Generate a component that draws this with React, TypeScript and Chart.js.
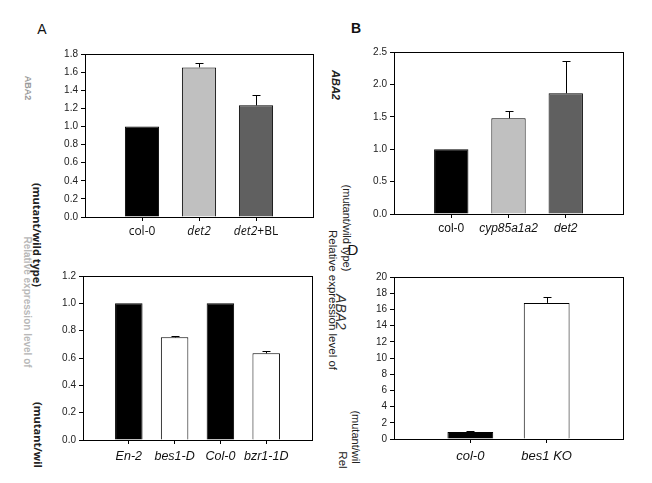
import React, { useEffect, useRef } from "react";
import { Chart, registerables } from "chart.js";

Chart.register(...registerables);

// ---------- data ----------
const valuesA = [1.0, 1.652, 1.233];
const errorsA = [0, 0.044, 0.11];
const labelsA: [string, boolean][][] = [
  [["col-0", false]],
  [["det2", true]],
  [["det2", true], ["+BL", false]],
];

const valuesB = [1.0, 1.477, 1.863];
const errorsB = [0, 0.108, 0.493];
const labelsB: [string, boolean][][] = [
  [["col-0", false]],
  [["cyp85a1a2", true]],
  [["det2", true]],
];

const valuesC = [1.0, 0.751, 1.0, 0.634];
const errorsC = [0, 0.007, 0, 0.015];
const labelsC: [string, boolean][][] = [
  [["En-2", true]],
  [["bes1-D", true]],
  [["Col-0", true]],
  [["bzr1-1D", true]],
];

const valuesD = [0.86, 16.8];
const errorsD = [0.09, 0.7];
const labelsD: [string, boolean][][] = [[["col-0", true]], [["bes1 KO", true]]];

const colorsA = ["#000000", "#c0c0c0", "#606060"];
const colorsB = ["#000000", "#c0c0c0", "#606060"];
const colorsC = ["#000000", "#ffffff", "#000000", "#ffffff"];
const colorsD = ["#000000", "#ffffff"];

type PanelCfg = {
  area: { l: number; t: number; r: number; b: number };
  values: number[];
  errors: number[];
  labels: [string, boolean][][];
  colors: string[];
  yMax: number;
  yStep: number;
  yDigits: number;
  labelOffset: number;
  labelSize: number;
  labelFamily: string;
};

const panels: PanelCfg[] = [
  {
    area: { l: 85, t: 54, r: 313, b: 217 },
    values: valuesA, errors: errorsA, labels: labelsA, colors: colorsA,
    yMax: 1.8, yStep: 0.2, yDigits: 1, labelOffset: 15, labelSize: 12, labelFamily: "'Open Sans', 'Liberation Sans', sans-serif",
  },
  {
    area: { l: 394, t: 52, r: 623, b: 214 },
    values: valuesB, errors: errorsB, labels: labelsB, colors: colorsB,
    yMax: 2.5, yStep: 0.5, yDigits: 1, labelOffset: 15, labelSize: 12, labelFamily: "'Liberation Sans', Arial, sans-serif",
  },
  {
    area: { l: 83, t: 276, r: 312, b: 440 },
    values: valuesC, errors: errorsC, labels: labelsC, colors: colorsC,
    yMax: 1.2, yStep: 0.2, yDigits: 1, labelOffset: 17, labelSize: 12.5, labelFamily: "'Liberation Sans', Arial, sans-serif",
  },
  {
    area: { l: 394, t: 277, r: 623, b: 439 },
    values: valuesD, errors: errorsD, labels: labelsD, colors: colorsD,
    yMax: 20, yStep: 2, yDigits: 0, labelOffset: 17, labelSize: 13, labelFamily: "'Liberation Sans', Arial, sans-serif",
  },
];

const Y_AXIS_W = 45;
const PAD_T = 10;
const PAD_R = 10;
const X_AXIS_H = 30;

function Panel({ cfg }: { cfg: PanelCfg }) {
  const ref = useRef<HTMLCanvasElement | null>(null);
  const { area } = cfg;
  const width = area.r - area.l + Y_AXIS_W + PAD_R;
  const height = area.b - area.t + PAD_T + X_AXIS_H;

  useEffect(() => {
    if (!ref.current) return;
    const n = cfg.values.length;
    const framePlugin = {
      id: "frameAndExtras",
      afterDatasetsDraw(chart: any) {
        const ctx = chart.ctx;
        const ca = chart.chartArea;
        const xs = chart.scales.x;
        const ys = chart.scales.y;
        ctx.save();
        // error bars
        ctx.strokeStyle = "#000";
        ctx.lineWidth = 1;
        cfg.values.forEach((v, i) => {
          const e = cfg.errors[i];
          if (!e) return;
          const x = Math.round(xs.getPixelForValue(i + 1)) + 0.5;
          const y0 = ys.getPixelForValue(v);
          const y1 = Math.round(ys.getPixelForValue(v + e)) + 0.5;
          ctx.beginPath();
          ctx.moveTo(x, y0);
          ctx.lineTo(x, y1);
          ctx.moveTo(x - 4, y1);
          ctx.lineTo(x + 4, y1);
          ctx.stroke();
        });
        // frame
        ctx.strokeRect(Math.round(ca.left) + 0.5, Math.round(ca.top) + 0.5, Math.round(ca.right - ca.left), Math.round(ca.bottom - ca.top));
        // x labels with mixed styles
        ctx.fillStyle = "#111";
        ctx.textBaseline = "middle";
        ctx.textAlign = "left";
        cfg.labels.forEach((segs, i) => {
          const fonts = segs.map(([, it]) => `${it ? "italic " : ""}${cfg.labelSize}px ${cfg.labelFamily}`);
          let total = 0;
          const widths = segs.map(([t], k) => {
            ctx.font = fonts[k];
            const w = ctx.measureText(t).width;
            total += w;
            return w;
          });
          let x = xs.getPixelForValue(i + 1) - total / 2;
          const y = ca.bottom + cfg.labelOffset;
          segs.forEach(([t], k) => {
            ctx.font = fonts[k];
            ctx.fillText(t, x, y);
            x += widths[k];
          });
        });
        ctx.restore();
      },
    };

    const chart = new Chart(ref.current, {
      type: "bar",
      data: {
        datasets: [
          {
            data: cfg.values.map((v, i) => ({ x: i + 1, y: v })),
            backgroundColor: cfg.colors,
            borderColor: "#000",
            borderWidth: 1,
            barPercentage: 0.6,
            categoryPercentage: 1,
          },
        ],
      },
      options: {
        animation: false,
        responsive: false,
        maintainAspectRatio: false,
        layout: { padding: { top: PAD_T, right: PAD_R, left: 0, bottom: 0 } },
        plugins: { legend: { display: false }, tooltip: { enabled: false } },
        scales: {
          x: {
            type: "linear",
            offset: false,
            min: 0,
            max: n + 1,
            afterFit: (s: any) => { s.height = X_AXIS_H; },
            ticks: { stepSize: 1, callback: () => "", autoSkip: false },
            grid: {
              offset: false,
              drawOnChartArea: false,
              tickLength: 4,
              color: "#000",
              tickColor: (c: any) => (c.tick && c.tick.value >= 1 && c.tick.value <= n ? "#000" : "rgba(0,0,0,0)"),
            },
            border: { display: true, color: "#000" },
          },
          y: {
            min: 0,
            max: cfg.yMax,
            afterFit: (s: any) => { s.width = Y_AXIS_W; },
            ticks: {
              stepSize: cfg.yStep,
              color: "#222",
              padding: 3,
              font: { size: 10, family: "'Liberation Sans', Arial, sans-serif" },
              callback: (v: any) => Number(v).toFixed(cfg.yDigits),
            },
            grid: { drawOnChartArea: false, tickLength: 4, color: "#000" },
            border: { display: true, color: "#000" },
          },
        },
      } as any,
      plugins: [framePlugin],
    });
    return () => chart.destroy();
  }, [cfg]);

  return (
    <canvas
      ref={ref}
      width={width}
      height={height}
      style={{ position: "absolute", left: area.l - Y_AXIS_W, top: area.t - PAD_T, width, height }}
    />
  );
}

type RotText = { text: string; x: number; y: number; size: number; color: string; weight?: string; style?: string; family?: string };

const rotTexts: RotText[] = [
  { text: "ABA2", x: 27, y: 88, size: 9, color: "#9a9a9a", weight: "bold" },
  { text: "(mutant/wild type)", x: 37, y: 235, size: 11, color: "#222", weight: "bold", family: "'Open Sans', sans-serif" },
  { text: "Relative expression level of", x: 27, y: 302, size: 10, color: "#b8b8b8", weight: "bold" },
  { text: "(mutant/wil", x: 38, y: 435, size: 11, color: "#222", weight: "bold", family: "'Open Sans', sans-serif" },
  { text: "ABA2", x: 335, y: 85, size: 11, color: "#222", weight: "bold", style: "italic" },
  { text: "(mutant/wild type)", x: 346, y: 228, size: 11, color: "#222" },
  { text: "Relative expression level of", x: 332, y: 300, size: 11.5, color: "#222" },
  { text: "ABA2", x: 341, y: 312, size: 14, color: "#333", style: "italic" },
  { text: "(mutant/wil", x: 355, y: 437, size: 11, color: "#222" },
  { text: "Rel", x: 342, y: 460, size: 11.5, color: "#222" },
];

const letters = [
  { text: "A", x: 42, y: 29, size: 14, weight: "normal" },
  { text: "B", x: 356, y: 28, size: 14, weight: "bold" },
  { text: "D", x: 353, y: 249, size: 15, weight: "normal" },
];

export default function App() {
  return (
    <div style={{ position: "absolute", left: 0, top: 0, width: 652, height: 483, background: "#fff", overflow: "hidden" }}>
      {rotTexts.map((t, i) => (
        <div
          key={"r" + i}
          style={{
            position: "absolute",
            left: t.x,
            top: t.y,
            transform: "translate(-50%, -50%) rotate(90deg)",
            whiteSpace: "nowrap",
            fontFamily: t.family || "'Liberation Sans', Arial, sans-serif",
            fontSize: t.size,
            fontWeight: t.weight || "normal",
            fontStyle: t.style || "normal",
            color: t.color,
            lineHeight: 1,
          }}
        >
          {t.text}
        </div>
      ))}
      {letters.map((l, i) => (
        <div
          key={"l" + i}
          style={{
            position: "absolute",
            left: l.x,
            top: l.y,
            transform: "translate(-50%, -50%)",
            fontFamily: "'Liberation Sans', Arial, sans-serif",
            fontSize: l.size,
            fontWeight: l.weight,
            color: "#111",
            lineHeight: 1,
          }}
        >
          {l.text}
        </div>
      ))}
      {panels.map((p, i) => (
        <Panel key={i} cfg={p} />
      ))}
    </div>
  );
}
